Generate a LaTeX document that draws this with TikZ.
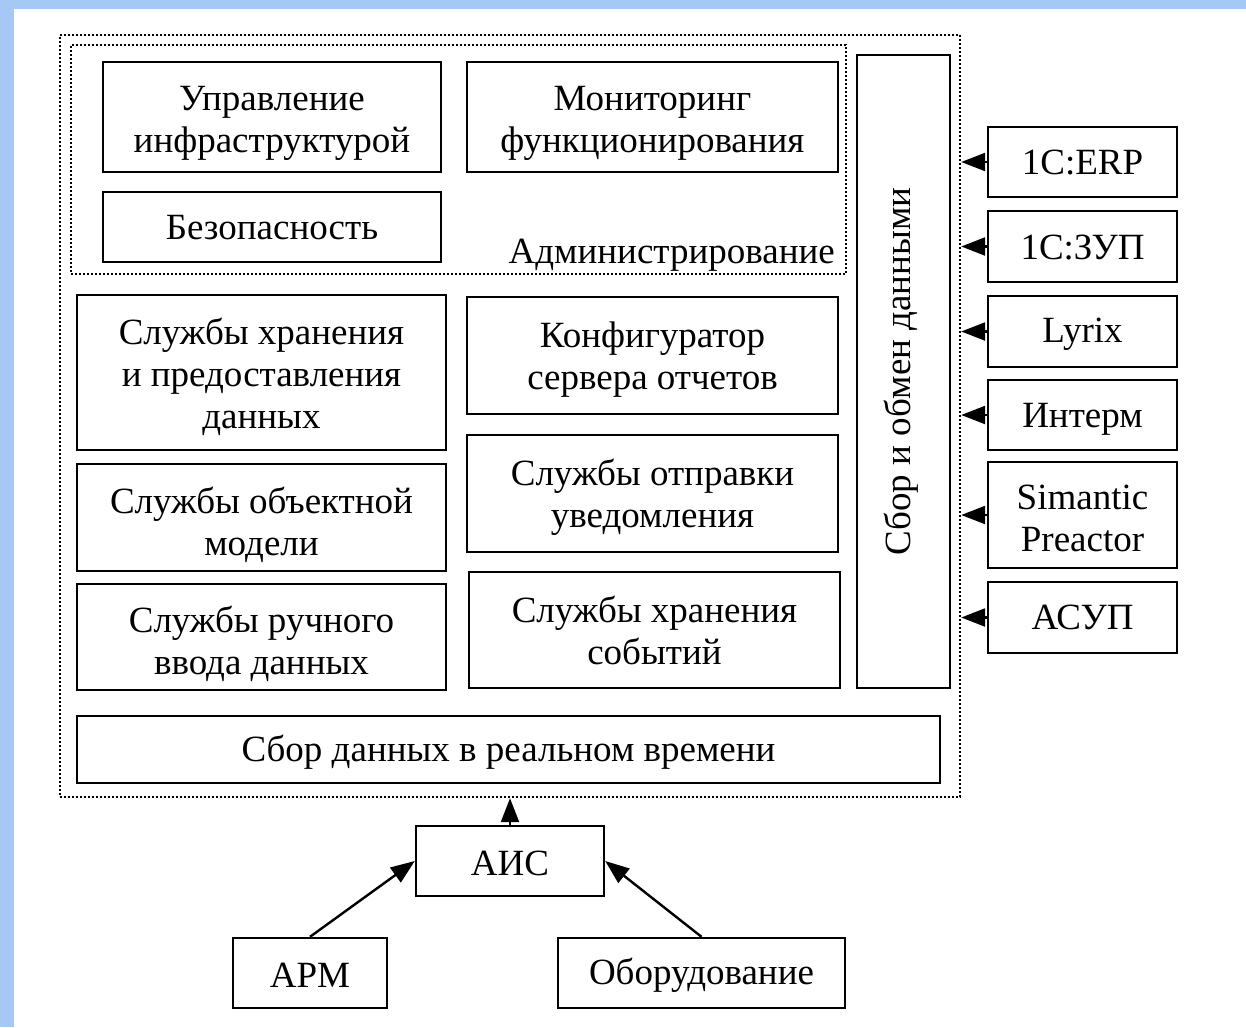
\documentclass[tikz,border=0pt]{standalone}
\usepackage{fontspec}
\setmainfont{Liberation Serif}
\usetikzlibrary{arrows.meta}
\definecolor{frameblue}{RGB}{166,200,245}
\tikzset{
  box/.style={draw=black, line width=2.4pt, fill=white, inner sep=0pt},
  txt/.style={inner sep=0pt, align=center, font=\fontsize{37}{42}\selectfont},
  dotbox/.style={draw=black, line width=2.4pt, dash pattern=on 2pt off 2pt, inner sep=0pt},
  arr/.style={line width=2.4pt, -{Triangle[length=24pt,width=18pt]}}
}
\begin{document}
\begin{tikzpicture}[x=1pt,y=-1pt]
\useasboundingbox (0,0) rectangle (1246,1027);
\fill[frameblue] (0,0) rectangle (1246,1027);
\fill[white] (14,9) rectangle (1246,1027);
% containers
\node[dotbox, minimum width=900pt, minimum height=762pt] (outer) at (510,416) {};
\node[dotbox, minimum width=775pt, minimum height=229pt] (admin) at (458.5,159.5) {};
\node[txt, anchor=east] (adminlbl) at (835,255) {Администрирование};
% boxes
\node[box, minimum width=338pt, minimum height=110pt] (upr) at (272,117) {};
\node[txt] (upr-t) at ([yshift=-6pt]upr.center) {Управление\\инфраструктурой};
\node[box, minimum width=371pt, minimum height=110pt] (mon) at (652.5,117) {};
\node[txt] (mon-t) at ([yshift=-6pt]mon.center) {Мониторинг\\функционирования};
\node[box, minimum width=338pt, minimum height=70pt] (bez) at (272,227) {};
\node[txt] (bez-t) at ([yshift=-1pt]bez.center) {Безопасность};
\node[box, minimum width=369pt, minimum height=155pt] (shr) at (261.5,372.5) {};
\node[txt] (shr-t) at ([yshift=-4pt]shr.center) {Службы хранения\\и предоставления\\данных};
\node[box, minimum width=369pt, minimum height=107pt] (obj) at (261.5,517.5) {};
\node[txt] (obj-t) at ([yshift=-7pt]obj.center) {Службы объектной\\модели};
\node[box, minimum width=369pt, minimum height=106pt] (ruc) at (261.5,637) {};
\node[txt] (ruc-t) at ([yshift=-7pt]ruc.center) {Службы ручного\\ввода данных};
\node[box, minimum width=371pt, minimum height=117pt] (konf) at (652.5,355.5) {};
\node[txt] (konf-t) at ([yshift=-4pt]konf.center) {Конфигуратор\\сервера отчетов};
\node[box, minimum width=371pt, minimum height=117pt] (otp) at (652.5,493.5) {};
\node[txt] (otp-t) at ([yshift=-4pt]otp.center) {Службы отправки\\уведомления};
\node[box, minimum width=371pt, minimum height=116pt] (sob) at (654.5,630) {};
\node[txt] (sob-t) at (sob.center) {Службы хранения\\событий};
\node[box, minimum width=93pt, minimum height=633pt] (sbor) at (903.5,371.5) {};
\node[txt, rotate=90] (sbor-t) at ([xshift=-2pt]sbor.center) {Сбор и обмен данными};
\node[box, minimum width=863pt, minimum height=67pt] (rt) at (508.5,749.5) {};
\node[txt] (rt-t) at ([yshift=-3pt]rt.center) {Сбор данных в реальном времени};
% external systems
\node[box, minimum width=189pt, minimum height=70pt] (erp) at (1082.5,162) {};
\node[txt] (erp-t) at ([yshift=-1pt]erp.center) {1С:ERP};
\node[box, minimum width=189pt, minimum height=71pt] (zup) at (1082.5,246.5) {};
\node[txt] (zup-t) at ([yshift=-1pt]zup.center) {1С:ЗУП};
\node[box, minimum width=189pt, minimum height=71pt] (lyr) at (1082.5,331.5) {};
\node[txt] (lyr-t) at ([yshift=-3pt]lyr.center) {Lyrix};
\node[box, minimum width=189pt, minimum height=70pt] (intm) at (1082.5,415) {};
\node[txt] (intm-t) at ([yshift=-4pt]intm.center) {Интерм};
\node[box, minimum width=189pt, minimum height=106pt] (sim) at (1082.5,515) {};
\node[txt] (sim-t) at ([yshift=-3pt]sim.center) {Simantic\\Preactor};
\node[box, minimum width=189pt, minimum height=71pt] (asup) at (1082.5,617.5) {};
\node[txt] (asup-t) at (asup.center) {АСУП};
\foreach \n in {erp,zup,lyr,intm,sim,asup}
  \draw[arr] (\n.west) -- (\n.west -| outer.east);
% bottom
\node[box, minimum width=188pt, minimum height=70pt] (ais) at (510,861) {};
\node[txt] (ais-t) at ([yshift=-2pt]ais.center) {АИС};
\node[box, minimum width=154pt, minimum height=70pt] (arm) at (310,973) {};
\node[txt] (arm-t) at ([yshift=-2pt]arm.center) {АРМ};
\node[box, minimum width=287pt, minimum height=70pt] (obo) at (701.5,973) {};
\node[txt] (obo-t) at ([yshift=-2pt]obo.center) {Оборудование};
\draw[arr] (ais.north) -- (ais.north |- outer.south);
\draw[arr] (arm.north) -- (ais.west);
\draw[arr] (obo.north) -- (ais.east);
\end{tikzpicture}
\end{document}
